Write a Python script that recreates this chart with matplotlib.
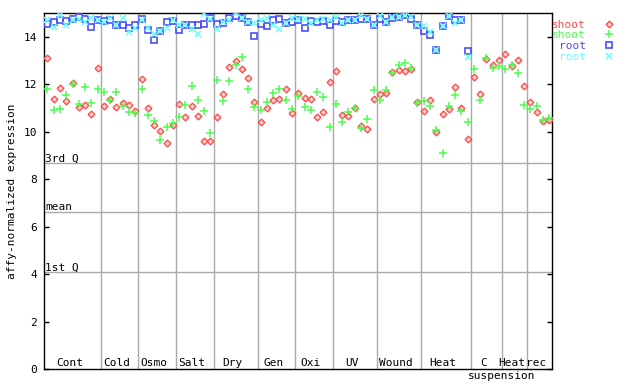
import numpy as np
import matplotlib
matplotlib.use("Agg")
import matplotlib.pyplot as plt
from matplotlib.lines import Line2D

groups = ["Cont", "Cold", "Osmo", "Salt", "Dry", "Gen", "Oxi", "UV",
          "Wound", "Heat", "C", "Heat", "rec"]
group_sizes = [9, 6, 6, 6, 7, 6, 6, 7, 7, 8, 5, 4, 4]

shoot_red = [
    13.11, 11.38, 11.85, 11.31, 12.06, 11.04, 11.13, 10.75, 12.69,   # Cont
    11.08, 11.38, 11.04, 11.21, 11.13, 10.85,                        # Cold
    12.23, 11.00, 10.27, 10.03, 9.52, 10.29,                         # Osmo
    11.17, 10.62, 11.08, 10.66, 9.62, 9.62,                          # Salt
    10.62, 11.59, 12.73, 12.99, 12.65, 12.27, 11.23,                 # Dry
    10.41, 11.00, 11.34, 11.38, 11.80, 10.77,                        # Gen
    11.63, 11.42, 11.38, 10.62, 10.83, 12.10,                        # Oxi
    12.56, 10.70, 10.66, 11.00, 10.24, 10.11, 11.38,                 # UV
    11.59, 11.63, 12.52, 12.61, 12.56, 12.65, 11.25,                 # Wound
    10.87, 11.34, 9.99, 10.75, 10.96, 11.89, 11.00, 9.69,            # Heat
    12.31, 11.59, 13.07, 12.82, 13.03,                               # C suspension
    13.28, 12.77, 13.03, 11.91,                                      # Heat suspension
    11.23, 10.81, 10.47, 10.51,                                      # rec
]
shoot_green = [
    11.80, 10.93, 10.96, 11.55, 11.99, 11.17, 11.89, 11.21, 11.80,
    11.68, 11.35, 11.68, 11.08, 10.83, 10.79,
    11.80, 10.70, 10.46, 9.65, 10.20, 10.37,
    10.62, 11.13, 11.93, 11.35, 10.87, 9.94,
    12.18, 11.30, 12.13, 12.79, 13.15, 11.80, 11.04,
    10.92, 11.25, 11.63, 11.80, 11.34, 10.96,
    11.51, 11.04, 10.92, 11.68, 11.46, 10.20,
    11.17, 10.41, 10.83, 11.00, 10.14, 10.54, 11.76,
    11.34, 11.76, 12.49, 12.82, 12.90, 12.69, 11.21,
    11.31, 11.08, 10.07, 9.10, 11.08, 11.55, 10.87, 10.41,
    12.65, 11.34, 13.11, 12.69, 12.77,
    12.65, 12.82, 12.49, 11.13,
    10.96, 11.08, 10.49, 10.58,
]
root_blue = [
    14.55, 14.63, 14.72, 14.68, 14.76, 14.85, 14.73, 14.42, 14.72,
    14.66, 14.69, 14.49, 14.51, 14.38, 14.48,
    14.76, 14.27, 13.87, 14.23, 14.63, 14.68,
    14.30, 14.51, 14.48, 14.48, 14.55, 14.80,
    14.55, 14.59, 14.80, 14.87, 14.80, 14.62, 14.04,
    14.55, 14.46, 14.72, 14.76, 14.56, 14.63,
    14.72, 14.38, 14.68, 14.63, 14.68, 14.51,
    14.68, 14.62, 14.69, 14.69, 14.76, 14.76, 14.51,
    14.76, 14.63, 14.80, 14.83, 14.90, 14.76, 14.51,
    14.25, 14.08, 13.45, 14.46, 14.89, 14.72, 14.72, 13.41,
]
root_cyan = [
    14.72, 14.42, 14.90, 14.48, 14.69, 14.76, 14.62, 14.80, 14.70,
    14.62, 14.77, 14.50, 14.77, 14.20, 14.38,
    14.70, 14.38, 14.10, 14.24, 14.38, 14.69,
    14.51, 14.51, 14.31, 14.10, 14.97, 14.75,
    14.31, 14.62, 14.70, 14.99, 14.80, 14.62, 14.59,
    14.72, 14.80, 14.51, 14.34, 14.59, 14.80,
    14.76, 14.76, 14.56, 14.72, 14.73, 14.72,
    14.83, 14.59, 14.69, 14.69, 14.92, 14.76, 14.51,
    14.87, 14.63, 14.83, 14.83, 14.90, 14.83, 14.51,
    14.45, 14.20, 13.45, 14.46, 14.89, 14.59, 14.72, 13.15,
]
series_labels = ["shoot", "shoot", "root", "root"]
quartile_names = ["3rd Q", "mean", "1st Q"]
quartile_values = [8.69, 6.62, 4.08]
yticks = [0, 2, 4, 6, 8, 10, 12, 14]

RED, GREEN, BLUE, CYAN = "#ff4d4d", "#4dff4d", "#4d4dff", "#66ffff"
GRID = "#aaaaaa"

plt.rcParams['font.family'] = ['DejaVu Sans Mono']
W, H = 640, 384
fig = plt.figure(figsize=(W / 100, H / 100), dpi=100)
L, R, T, B = 44.3, 552.3, 13, 369
ax = fig.add_axes([L / W, 1 - B / H, (R - L) / W, (B - T) / H])

n = sum(group_sizes)
ax.set_xlim(0, n)
ax.set_ylim(0, 15)

bounds = np.cumsum([0] + group_sizes)
for b in bounds[1:-1]:
    ax.axvline(b, color=GRID, lw=1, zorder=1)
for name, q in zip(quartile_names, quartile_values):
    ax.axhline(q, color=GRID, lw=1, zorder=1)
    ax.text(0.1, q + 0.06, name, fontsize=8, ha='left', va='baseline', zorder=3)

xs = np.arange(len(shoot_red)) + 0.5
xr = np.arange(len(root_blue)) + 0.5
st_red = dict(marker='D', ms=3.4, mec=RED, mfc='#ffd6d6', mew=1, ls='none')
st_green = dict(marker='+', ms=5.5, mec=GREEN, mew=1.1, ls='none')
st_blue = dict(marker='s', ms=4.3, mec=BLUE, mfc='none', mew=1.2, ls='none')
st_cyan = dict(marker='x', ms=4, mec=CYAN, mew=1.1, ls='none')
ax.plot(xs, shoot_red, zorder=4, **st_red)
ax.plot(xs, shoot_green, zorder=5, **st_green)
ax.plot(xr, root_blue, zorder=6, **st_blue)
ax.plot(xr, root_cyan, zorder=7, **st_cyan)

centers = (bounds[:-1] + bounds[1:]) / 2
for c, g in zip(centers, groups):
    ax.text(c - 0.5, 0.12, g, fontsize=8, ha='center', va='baseline')
ax.text(bounds[11], -0.42, "suspension", fontsize=8, ha='center', va='baseline',
        clip_on=False)

ax.set_xticks([])
ax.set_yticks(yticks)
ax.tick_params(axis='y', direction='in', length=3.6, width=1, right=True,
               labelright=False, pad=5, labelsize=8)
for s in ax.spines.values():
    s.set_color('black')
    s.set_linewidth(1)

ax.set_ylabel("affy-normalized expression", fontsize=8, va='center')
ax.yaxis.set_label_coords((12 - L) / (R - L), 0.5)

# legend on the right
leg_y = [23.7, 34.3, 45.3, 56.3]
for lab, col, st, y in zip(series_labels, [RED, GREEN, BLUE, CYAN],
                           [st_red, st_green, st_blue, st_cyan], leg_y):
    fig.text(586 / W, 1 - (y + 1) / H, lab, color=col, fontsize=8,
             ha='right', va='center')
    fig.add_artist(Line2D([609 / W], [1 - y / H], transform=fig.transFigure, **st))

fig.savefig("out.png", dpi=100)
